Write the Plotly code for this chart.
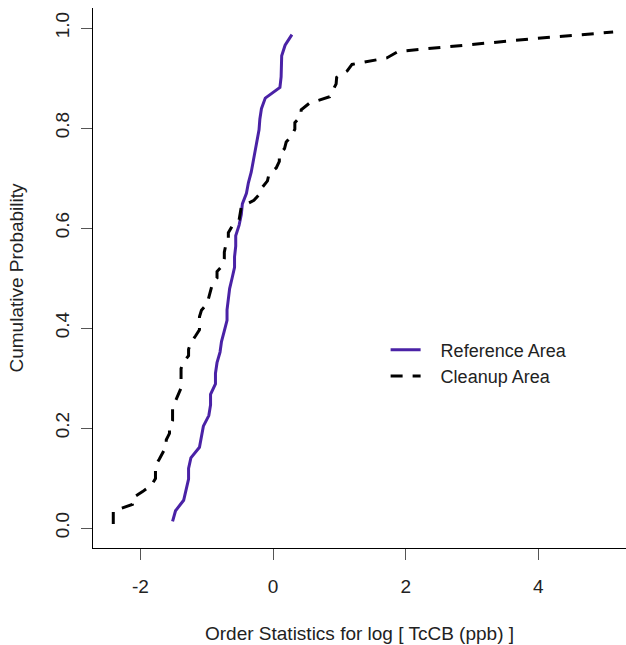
import numpy as np
import plotly.graph_objects as go

# TcCB concentrations (ppb)
reference_ppb = [0.22, 0.23, 0.26, 0.27, 0.28, 0.28, 0.29, 0.33, 0.34, 0.35, 0.38, 0.39,
                 0.39, 0.42, 0.42, 0.43, 0.45, 0.46, 0.48, 0.50, 0.50, 0.51, 0.52, 0.54,
                 0.56, 0.56, 0.57, 0.57, 0.60, 0.62, 0.63, 0.67, 0.69, 0.72, 0.74, 0.76,
                 0.79, 0.81, 0.82, 0.84, 0.89, 1.11, 1.13, 1.14, 1.14, 1.20, 1.33]
cleanup_ppb = [0.09, 0.09, 0.09, 0.12, 0.12, 0.14, 0.16, 0.17, 0.17, 0.17, 0.18, 0.19,
               0.20, 0.20, 0.21, 0.21, 0.22, 0.22, 0.22, 0.23, 0.24, 0.25, 0.25, 0.25,
               0.25, 0.26, 0.28, 0.28, 0.29, 0.31, 0.33, 0.33, 0.33, 0.34, 0.37, 0.38,
               0.39, 0.40, 0.43, 0.43, 0.47, 0.48, 0.48, 0.49, 0.51, 0.51, 0.54, 0.60,
               0.61, 0.62, 0.75, 0.82, 0.85, 0.92, 0.94, 1.05, 1.10, 1.10, 1.19, 1.22,
               1.33, 1.39, 1.39, 1.52, 1.53, 1.73, 2.35, 2.46, 2.59, 2.61, 3.06, 3.29,
               5.56, 6.61, 18.40, 51.97, 168.64]

x_tick_vals = [-2, 0, 2, 4]
y_tick_vals = [0.0, 0.2, 0.4, 0.6, 0.8, 1.0]


def plot_pos(n, a=0.375):
    i = np.arange(1, n + 1)
    return (i - a) / (n + 1 - 2 * a)


ref_x = np.log(np.sort(reference_ppb))
ref_y = plot_pos(len(reference_ppb))
cln_x = np.log(np.sort(cleanup_ppb))
cln_y = plot_pos(len(cleanup_ppb))

pad = "\u00a0\u00a0\u00a0"
fig = go.Figure()
fig.add_trace(go.Scatter(x=ref_x, y=ref_y, mode="lines", name=pad + "Reference Area",
                         line=dict(color="#4A22A6", width=3)))
fig.add_trace(go.Scatter(x=cln_x, y=cln_y, mode="lines", name=pad + "Cleanup Area",
                         line=dict(color="black", width=3, dash="12px,10px")))

axis_font = dict(family="Liberation Sans, Arial, sans-serif", size=19, color="#222222")

fig.update_layout(
    width=626, height=645,
    margin=dict(l=93, r=0, t=8, b=97),
    paper_bgcolor="white", plot_bgcolor="white",
    font=axis_font,
    showlegend=True,
    legend=dict(x=0.549, y=0.401, xanchor="left", yanchor="top",
                bgcolor="rgba(0,0,0,0)", font=dict(size=18, color="#222222"),
                tracegroupgap=0),
    xaxis=dict(range=[-2.7137, 5.3217], tickvals=x_tick_vals,
               ticktext=[str(v) for v in x_tick_vals],
               showgrid=False, zeroline=False, showline=True, linecolor="black",
               linewidth=1, ticks="outside", ticklen=11, tickcolor="#555555",
               tickfont=axis_font, ticklabelstandoff=10, automargin=False,
               title=dict(text="Order Statistics for log [ TcCB (ppb) ]",
                          font=axis_font, standoff=30)),
    yaxis=dict(range=[-0.04, 1.04], tickvals=y_tick_vals,
               ticktext=[f"{v:.1f}" for v in y_tick_vals], tickangle=-90,
               showgrid=False, zeroline=False, showline=True, linecolor="black",
               linewidth=1, ticks="outside", ticklen=11, tickcolor="#555555",
               tickfont=axis_font, ticklabelstandoff=4, automargin=False,
               title=dict(text="Cumulative Probability", font=axis_font, standoff=23)),
)

fig.write_html("out.html")
